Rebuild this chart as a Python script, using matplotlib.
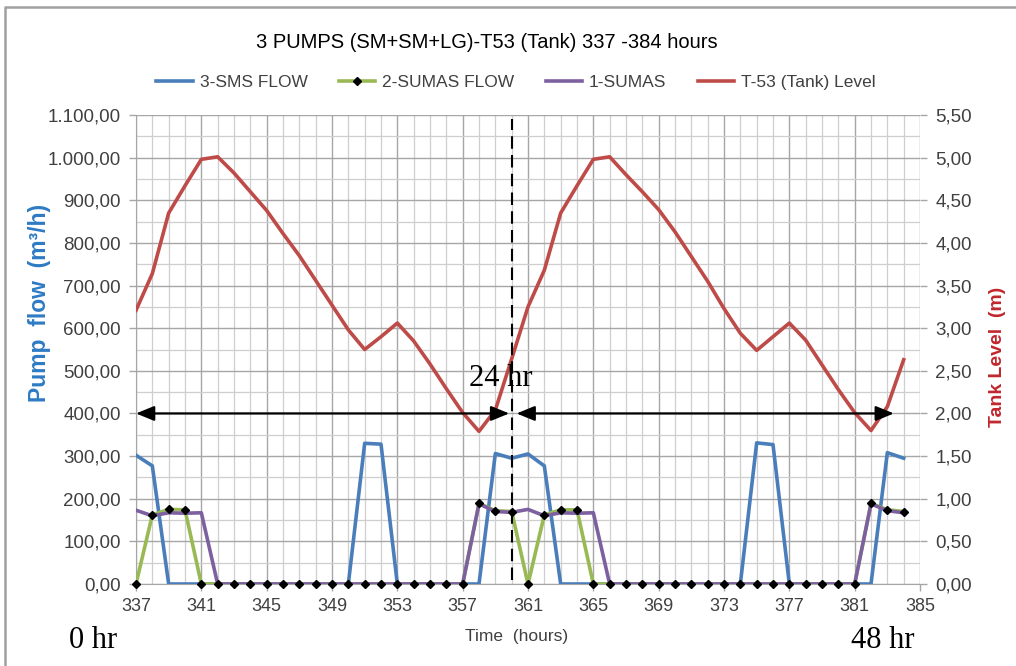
import matplotlib
matplotlib.use("Agg")
import matplotlib.pyplot as plt
from matplotlib.ticker import MultipleLocator, FuncFormatter
from matplotlib.lines import Line2D
from matplotlib.patches import FancyArrowPatch

# Hourly readings, hours 337-384
hours = list(range(337, 385))

sms3_flow = [302, 277, 0, 0, 0, 0, 0, 0, 0, 0, 0, 0, 0, 0, 330, 328,
             0, 0, 0, 0, 0, 0, 306, 295, 305, 277, 0, 0, 0, 0, 0, 0,
             0, 0, 0, 0, 0, 0, 331, 327, 0, 0, 0, 0, 0, 0, 308, 295]

sumas2_flow = [0, 162, 175, 174, 0, 0, 0, 0, 0, 0, 0, 0, 0, 0, 0, 0,
               0, 0, 0, 0, 0, 189, 172, 170, 0, 162, 174, 174, 0, 0, 0, 0,
               0, 0, 0, 0, 0, 0, 0, 0, 0, 0, 0, 0, 0, 189, 174, 170]

sumas1_flow = [173, 160, 167, 166, 167, 0, 0, 0, 0, 0, 0, 0, 0, 0, 0, 0,
               0, 0, 0, 0, 0, 188, 170, 168, 175, 160, 167, 166, 167, 0, 0, 0,
               0, 0, 0, 0, 0, 0, 0, 0, 0, 0, 0, 0, 0, 188, 172, 167]

tank_level = [3.21, 3.64, 4.35, 4.67, 4.98, 5.01, 4.82, 4.60, 4.38, 4.11, 3.85, 3.56,
              3.27, 2.98, 2.75, 2.90, 3.06, 2.85, 2.58, 2.29, 2.01, 1.79, 2.04, 2.64,
              3.25, 3.68, 4.35, 4.67, 4.98, 5.01, 4.80, 4.60, 4.39, 4.13, 3.84, 3.55,
              3.23, 2.94, 2.74, 2.90, 3.06, 2.86, 2.57, 2.28, 2.01, 1.80, 2.08, 2.63]

x_ticks = list(range(337, 386, 4))

C_BLUE = "#4A7EBB"
C_GREEN = "#98B954"
C_PURPLE = "#7D60A0"
C_RED = "#BE4B48"
TXT = "#404040"

SANS = ["Liberation Sans", "DejaVu Sans"]
SERIF = ["Liberation Serif", "DejaVu Serif"]
plt.rcParams["font.family"] = SANS

W, H = 1016, 666
fig = plt.figure(figsize=(W / 100, H / 100), dpi=100)
ax = fig.add_axes([136 / W, 1 - 584 / H, (920 - 136) / W, (584 - 115) / H])
ax2 = ax.twinx()


def eu_fmt(v, _pos, decimals=2):
    s = f"{v:,.{decimals}f}"
    return s.replace(",", "X").replace(".", ",").replace("X", ".")


ax.set_xlim(337, 385)
ax.set_ylim(0, 1100)
ax2.set_ylim(0, 5.5)

ax.xaxis.set_minor_locator(MultipleLocator(1))
ax.set_xticks(x_ticks)
ax.yaxis.set_major_locator(MultipleLocator(100))
ax.yaxis.set_minor_locator(MultipleLocator(50))
ax2.yaxis.set_major_locator(MultipleLocator(0.5))
ax.yaxis.set_major_formatter(FuncFormatter(eu_fmt))
ax2.yaxis.set_major_formatter(FuncFormatter(eu_fmt))

ax.grid(which="major", color="#A6A6A6", lw=1.0)
ax.grid(which="minor", color="#CFCFCF", lw=0.9)
ax.set_axisbelow(True)

for a in (ax, ax2):
    for side in ("top", "right", "left", "bottom"):
        a.spines[side].set_visible(False)
ax.spines["left"].set_visible(True)
ax.spines["bottom"].set_visible(True)
ax.spines["left"].set_color("#A6A6A6")
ax.spines["bottom"].set_color("#A6A6A6")

ax.tick_params(axis="both", which="major", direction="out", length=5, width=1,
               color="#A6A6A6", labelcolor=TXT, labelsize=13)
ax.tick_params(axis="y", labelsize=13.5, pad=6)
ax.tick_params(axis="x", pad=5)
ax.tick_params(which="minor", length=0)
ax2.tick_params(axis="y", direction="out", length=5, width=1, color="#A6A6A6",
                labelcolor=TXT, labelsize=13.5, pad=6)

# pump flows (left axis)
ax.plot(hours, sms3_flow, color=C_BLUE, lw=2.6, zorder=3)
ax.plot(hours, sumas2_flow, color=C_GREEN, lw=2.6, zorder=4)
ax.plot(hours, sumas1_flow, color=C_PURPLE, lw=2.6, zorder=5)
ax.plot(hours, sumas2_flow, ls="none", marker="D", ms=4.2, mfc="black",
        mec="black", zorder=6, clip_on=False)

# tank level (right axis)
ax2.plot(hours, tank_level, color=C_RED, lw=2.6, zorder=3)

# 24 h markers
ax2.plot([360, 360], [0.05, 5.45], color="black", lw=1.5, ls=(0, (6, 3)), zorder=6)
for x0, x1 in ((337, 359.85), (360.3, 383.4)):
    arr = FancyArrowPatch((x0, 2.0), (x1, 2.0),
                          arrowstyle="<|-|>,head_length=1.1,head_width=0.45",
                          color="black", lw=1.6, mutation_scale=10,
                          shrinkA=0, shrinkB=0, zorder=7, clip_on=False)
    ax2.add_patch(arr)

fig.text(501 / W, 1 - 378 / H, "24 hr", family=SERIF, fontsize=22,
         ha="center", va="center", color="black")
fig.text(93 / W, 1 - 641 / H, "0 hr", family=SERIF, fontsize=22,
         ha="center", va="center", color="black")
fig.text(883 / W, 1 - 641 / H, "48 hr", family=SERIF, fontsize=22,
         ha="center", va="center", color="black")

# titles and axis labels
fig.text(487 / W, 1 - 43 / H, "3 PUMPS (SM+SM+LG)-T53 (Tank) 337 -384 hours",
         fontsize=14.5, ha="center", va="center", color="black")
fig.text(517 / W, 1 - 637 / H, "Time  (hours)", fontsize=12.5,
         ha="center", va="center", color=TXT)
fig.text(40 / W, 1 - 303 / H, "Pump  flow  (m³/h)", fontsize=16.5,
         fontweight="bold", rotation=90, ha="center", va="center", color="#2E7BC4")
fig.text(997 / W, 1 - 357 / H, "Tank Level  (m)", fontsize=14,
         fontweight="bold", rotation=90, ha="center", va="center", color="#C0272D")

handles = [
    Line2D([], [], color=C_BLUE, lw=2.6),
    Line2D([], [], color=C_GREEN, lw=2.6, marker="D", ms=4.2, mfc="black", mec="black"),
    Line2D([], [], color=C_PURPLE, lw=2.6),
    Line2D([], [], color=C_RED, lw=2.6),
]
labels = ["3-SMS FLOW", "2-SUMAS FLOW", "1-SUMAS", "T-53 (Tank) Level"]
fig.legend(handles, labels, loc="center", bbox_to_anchor=(516 / W, 1 - 82 / H),
           ncol=4, frameon=False, fontsize=12.5, handlelength=2.1,
           handletextpad=0.4, columnspacing=1.8, numpoints=1,
           labelcolor=TXT)

# outer chart border
fig.add_artist(Line2D([5 / W, 5 / W, 1.0], [0.0, 1 - 7 / H, 1 - 7 / H],
                      transform=fig.transFigure, color="#A0A0A0", lw=1.8))

fig.savefig("out.png", dpi=100)
